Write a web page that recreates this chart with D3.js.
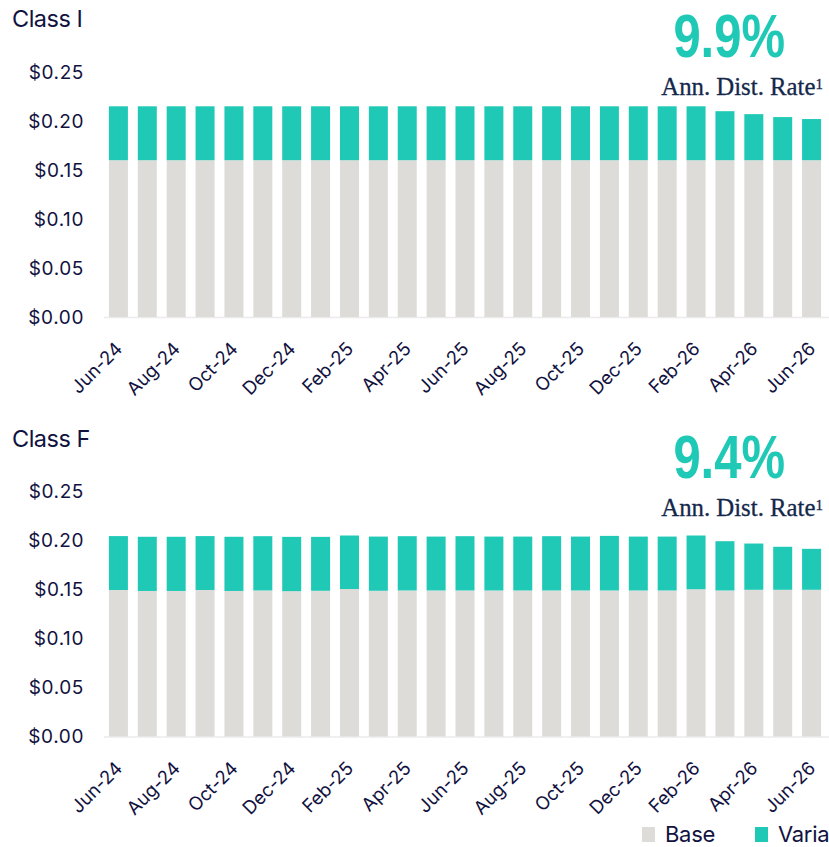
<!DOCTYPE html>
<html>
<head>
<meta charset="utf-8">
<script src="https://cdn.jsdelivr.net/npm/d3@7"></script>
<style>
	body { margin: 0; background: #fff; }
	svg { display: block; }
</style>
</head>
<body>
<svg id="chart" width="829" height="847"></svg>
<script>
'use strict';

const months = ["Jun-24", "Jul-24", "Aug-24", "Sep-24", "Oct-24", "Nov-24", "Dec-24", "Jan-25", "Feb-25",
	"Mar-25", "Apr-25", "May-25", "Jun-25", "Jul-25", "Aug-25", "Sep-25", "Oct-25", "Nov-25", "Dec-25",
	"Jan-26", "Feb-26", "Mar-26", "Apr-26", "May-26", "Jun-26"];

const classIBase = [0.160, 0.160, 0.160, 0.160, 0.160, 0.160, 0.160, 0.160, 0.160, 0.160, 0.160, 0.160, 0.160,
	0.160, 0.160, 0.160, 0.160, 0.160, 0.160, 0.160, 0.160, 0.160, 0.160, 0.160, 0.160];
const classIVariable = [0.055, 0.055, 0.055, 0.055, 0.055, 0.055, 0.055, 0.055, 0.055, 0.055, 0.055, 0.055, 0.055,
	0.055, 0.055, 0.055, 0.055, 0.055, 0.055, 0.055, 0.055, 0.050, 0.047, 0.044, 0.042];

const classFBase = [0.1495, 0.1485, 0.1485, 0.1495, 0.1485, 0.1490, 0.1483, 0.1487, 0.1505, 0.1487, 0.1490, 0.1490, 0.1490,
	0.1490, 0.1490, 0.1490, 0.1490, 0.1490, 0.1490, 0.1490, 0.1503, 0.1490, 0.1497, 0.1497, 0.1497];
const classFVariable = [0.0550, 0.0553, 0.0553, 0.0550, 0.0553, 0.0554, 0.0554, 0.0550, 0.0546, 0.0553, 0.0554, 0.0550, 0.0554,
	0.0550, 0.0550, 0.0554, 0.0550, 0.0557, 0.0550, 0.0550, 0.0548, 0.0503, 0.0472, 0.0439, 0.0418];

const yTicks = [0, 0.05, 0.10, 0.15, 0.20, 0.25];
const seriesKeys = ["base", "variable"];
const seriesLabels = ["Base", "Variable"];

const panels = [
	{ title: "Class I", rate: "9.9%", base: classIBase, variable: classIVariable },
	{ title: "Class F", rate: "9.4%", base: classFBase, variable: classFVariable },
];

const COLOR_BASE = "#dddcd8";
const COLOR_VAR = "#1fc9b6";
const COLOR_TEXT = "#12123f";
const COLOR_SERIF = "#14284b";
const FONT_SANS = "Inter, 'Liberation Sans', sans-serif";

const svg = d3.select("#chart");
const color = d3.scaleOrdinal(seriesKeys, [COLOR_BASE, COLOR_VAR]);

const x = d3.scaleBand()
	.domain(months)
	.range([104, 826])
	.paddingInner(0.342)
	.paddingOuter(0.17);

const PLOT_H = 245;
const PANEL_ZERO = [317, 736.5];

panels.forEach((p, pi) => {
	const zeroY = PANEL_ZERO[pi];
	const y = d3.scaleLinear().domain([0, 0.25]).range([zeroY, zeroY - PLOT_H]);
	const g = svg.append("g");

	const rows = months.map((m, i) => ({ month: m, base: p.base[i], variable: p.variable[i] }));
	const stacked = d3.stack().keys(seriesKeys)(rows);

	// axis baseline
	g.append("line")
		.attr("x1", 104).attr("x2", 829)
		.attr("y1", zeroY + 0.5).attr("y2", zeroY + 0.5)
		.attr("stroke", "#ebebeb")
		.attr("stroke-width", 1.5);

	g.append("g")
		.selectAll("g")
		.data(stacked)
		.join("g")
			.attr("fill", d => color(d.key))
		.selectAll("rect")
		.data(d => d)
		.join("rect")
			.attr("x", d => x(d.data.month))
			.attr("width", x.bandwidth())
			.attr("y", d => y(d[1]))
			.attr("height", d => y(d[0]) - y(d[1]));

	// y axis
	const yAxis = g.append("g")
		.attr("transform", "translate(84,0)")
		.call(d3.axisLeft(y).tickValues(yTicks).tickFormat(d3.format("$.2f")).tickSize(0).tickPadding(0));
	yAxis.select(".domain").remove();
	yAxis.selectAll("text")
		.attr("fill", COLOR_TEXT)
		.style("font", `19px ${FONT_SANS}`)
		.style("letter-spacing", "0.6px");

	// x axis, every other month labelled
	const xAxis = g.append("g")
		.attr("transform", `translate(0,${zeroY})`)
		.call(d3.axisBottom(x).tickSize(0).tickFormat((d, i) => i % 2 === 0 ? d : ""));
	xAxis.select(".domain").remove();
	xAxis.selectAll("text")
		.attr("fill", COLOR_TEXT)
		.style("font", `18.5px ${FONT_SANS}`)
		.attr("text-anchor", "end")
		.attr("dy", 0)
		.attr("y", 0)
		.attr("transform", "translate(5,33) rotate(-45)");

	// titles
	const top = zeroY - 317;
	g.append("text")
		.attr("x", 12).attr("y", top + 27)
		.attr("fill", COLOR_TEXT)
		.style("font", `23.5px ${FONT_SANS}`)
		.style("letter-spacing", "-0.5px")
		.text(p.title);

	g.append("text")
		.attr("transform", `translate(785,${top + 57 + (pi ? 1 : 0)}) scale(0.79,1)`)
		.attr("text-anchor", "end")
		.attr("fill", COLOR_VAR)
		.style("font", "bold 62px 'Liberation Sans Narrow', 'Liberation Sans', sans-serif")
		.text(p.rate);

	const rt = g.append("text")
		.attr("x", 823).attr("y", top + 95 + (pi ? 1 : 0))
		.attr("text-anchor", "end")
		.attr("fill", COLOR_SERIF)
		.attr("stroke", COLOR_SERIF)
		.attr("stroke-width", 0.3)
		.style("font", "24.8px 'Liberation Serif', serif");
	rt.append("tspan").text("Ann. Dist. Rate");
	rt.append("tspan").attr("dy", -6).style("font-size", "15px").text("1");
});

// legend
const legend = svg.append("g").attr("transform", "translate(642,827)");
const li = legend.selectAll("g")
	.data(seriesKeys)
	.join("g")
		.attr("transform", (d, i) => `translate(${i * 113},0)`);
li.append("rect")
	.attr("width", 13).attr("height", 15)
	.attr("fill", d => color(d));
li.append("text")
	.attr("x", 23).attr("y", 15)
	.attr("fill", COLOR_TEXT)
	.style("font", `22px ${FONT_SANS}`)
	.style("letter-spacing", "-0.3px")
	.text((d, i) => seriesLabels[i]);
</script>
</body>
</html>
